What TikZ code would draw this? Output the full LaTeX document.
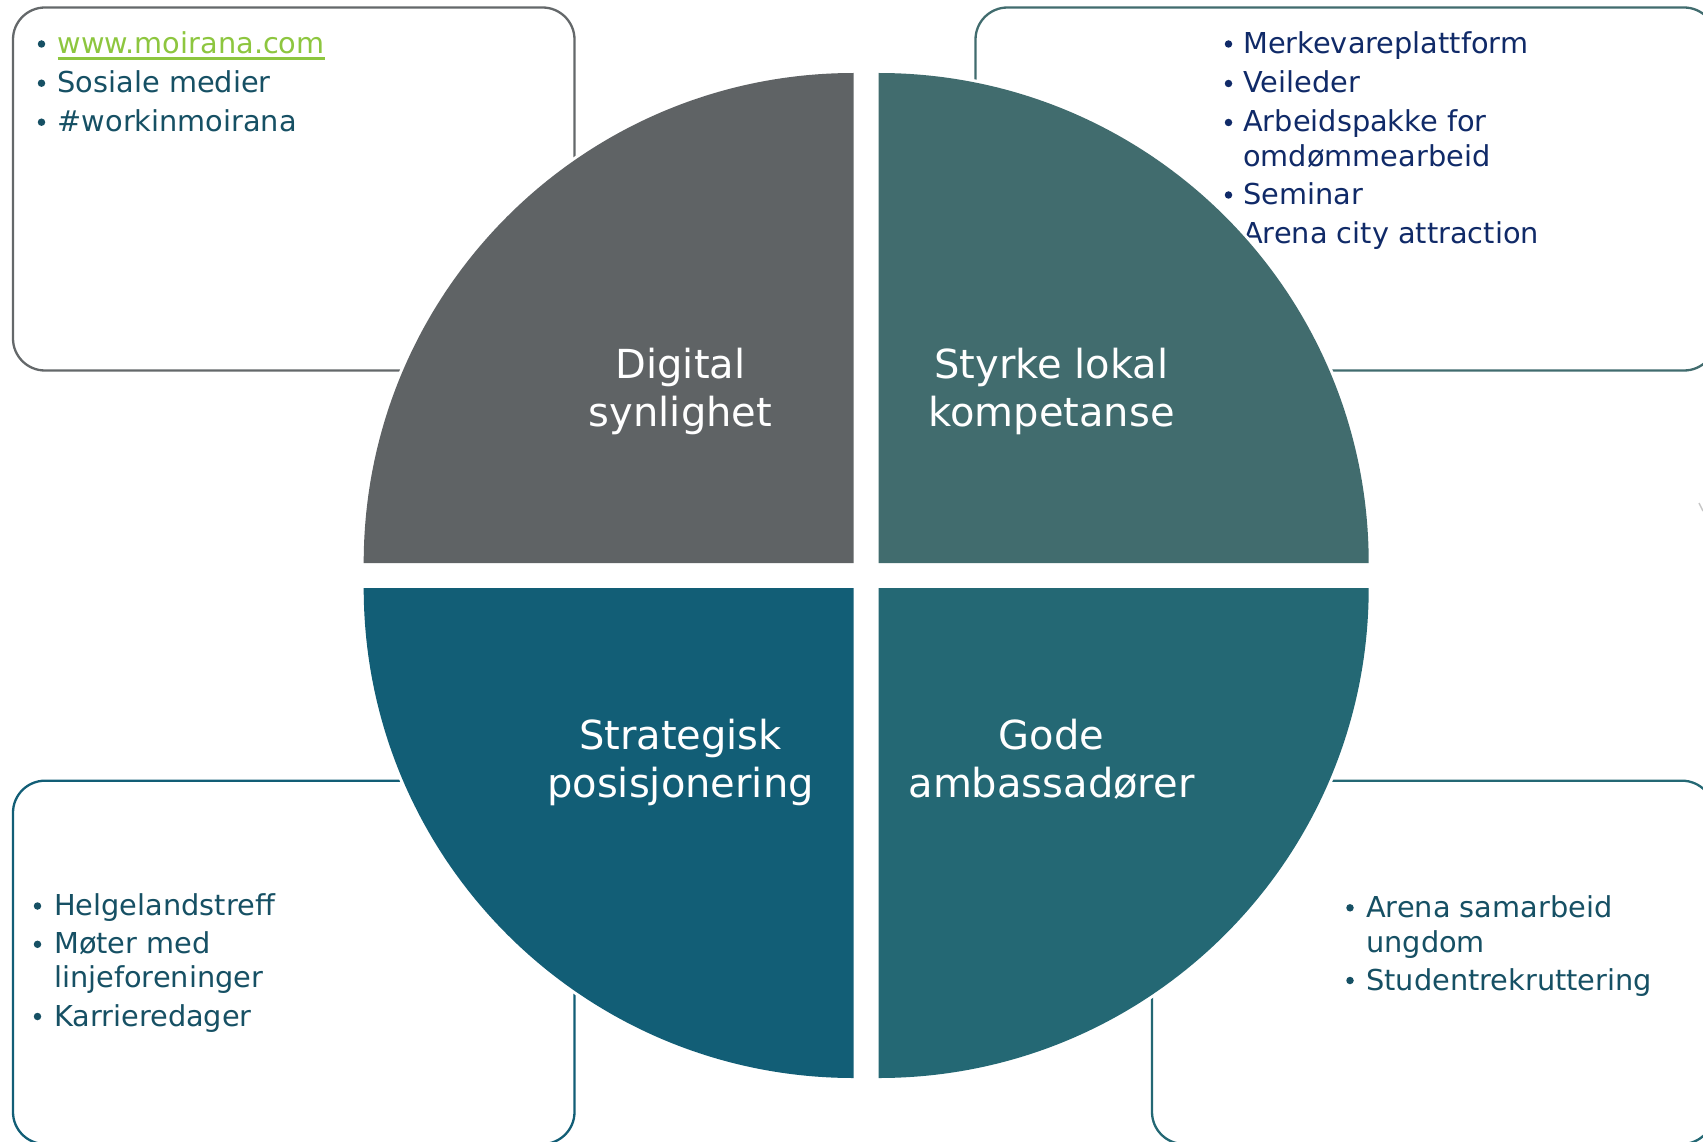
\documentclass[tikz,border=0pt]{standalone}
\usepackage{fontspec}
\setmainfont{DejaVu Sans}
\definecolor{cTL}{RGB}{95,99,101}
\definecolor{cTR}{RGB}{65,108,110}
\definecolor{cBL}{RGB}{18,94,118}
\definecolor{cBR}{RGB}{36,104,116}
\definecolor{lTL}{RGB}{100,104,106}
\definecolor{txTeal}{RGB}{22,80,100}
\definecolor{txNavy}{RGB}{16,42,104}
\definecolor{linkGreen}{RGB}{141,198,63}
\begin{document}
\begin{tikzpicture}[x=1pt,y=-1pt]
\tikzset{
  card/.style={draw=#1, line width=2.3pt, rounded corners=32pt},
  halo/.style={draw=white, line width=6pt, line join=round},
  title/.style={text=white, align=center, font=\fontsize{40}{47.5}\selectfont, inner sep=0pt},
  itm/.style={anchor=base west, inner sep=0pt, font=\fontsize{28.8}{35}\selectfont, text=#1},
  dot/.style={circle, fill=#1, inner sep=0pt, minimum size=7.5pt},
}
\useasboundingbox (0,0) rectangle (1703,1142);
\clip (0,0) rectangle (1703,1142);

% ---------- cards ----------
\draw[card=lTL] (13,7.5) rectangle (574.5,370.5);
\draw[card=cTR] (975.5,7.5) rectangle (1716,370.5);
\draw[card=cBL] (13,780.7) rectangle (574.5,1144);
\draw[card=cBR] (1152,780.7) rectangle (1714,1144);

% ---------- top-left texts ----------
\node[dot=txTeal] (tl1b) at (41.5,44) {};
\node[itm=linkGreen] (tl1) at (57.5,53.5) {www.moirana.com};
\draw[linkGreen, line width=2.2pt] ([yshift=-5pt]tl1.base west) -- ([yshift=-5pt]tl1.base east);
\node[dot=txTeal] (tl2b) at (41.5,83.2) {};
\node[itm=txTeal] (tl2) at (57.5,92.7) {Sosiale medier};
\node[dot=txTeal] (tl3b) at (41.5,122.2) {};
\node[itm=txTeal] (tl3) at (57.5,131.7) {\#workinmoirana};

% ---------- top-right texts ----------
\node[dot=txNavy] (tr1b) at (1228.5,44) {};
\node[itm=txNavy] (tr1) at (1243,53.5) {Merkevareplattform};
\node[dot=txNavy] (tr2b) at (1228.5,83.5) {};
\node[itm=txNavy] (tr2) at (1243,93) {Veileder};
\node[dot=txNavy] (tr3b) at (1228.5,122.5) {};
\node[itm=txNavy] (tr3) at (1243,132) {Arbeidspakke for};
\node[itm=txNavy] (tr3c) at (1243,166.5) {omdømmearbeid};
\node[dot=txNavy] (tr4b) at (1228.5,195) {};
\node[itm=txNavy] (tr4) at (1243,204.5) {Seminar};
\node[dot=txNavy] (tr5b) at (1228.5,233.8) {};
\node[itm=txNavy] (tr5) at (1243,243.3) {Arena city attraction};

% ---------- bottom-left texts ----------
\node[dot=txTeal] (bl1b) at (37.5,906) {};
\node[itm=txTeal] (bl1) at (54,915.5) {Helgelandstreff};
\node[dot=txTeal] (bl2b) at (37.5,944.3) {};
\node[itm=txTeal] (bl2) at (54,953.8) {Møter med};
\node[itm=txTeal] (bl2c) at (54,987.5) {linjeforeninger};
\node[dot=txTeal] (bl3b) at (37.5,1016.5) {};
\node[itm=txTeal] (bl3) at (54,1026) {Karrieredager};

% ---------- bottom-right texts ----------
\node[dot=txTeal] (br1b) at (1350,907.8) {};
\node[itm=txTeal] (br1) at (1366,917.3) {Arena samarbeid};
\node[itm=txTeal] (br1c) at (1366,952.7) {ungdom};
\node[dot=txTeal] (br2b) at (1350,980.5) {};
\node[itm=txTeal] (br2) at (1366,990) {Studentrekruttering};

% ---------- white halos around the quarters ----------
\path[halo] (853.7,563) -- ++(-490,0) arc[start angle=180,end angle=270,radius=490] -- cycle;
\path[halo] (878.7,563) -- ++(0,-490) arc[start angle=270,end angle=360,radius=490] -- cycle;
\path[halo] (853.7,588) -- ++(0,490) arc[start angle=90,end angle=180,radius=490] -- cycle;
\path[halo] (878.7,588) -- ++(490,0) arc[start angle=0,end angle=90,radius=490] -- cycle;

% ---------- quarters ----------
\fill[cTL] (853.7,563) -- ++(-490,0) arc[start angle=180,end angle=270,radius=490] -- cycle;
\fill[cTR] (878.7,563) -- ++(0,-490) arc[start angle=270,end angle=360,radius=490] -- cycle;
\fill[cBL] (853.7,588) -- ++(0,490) arc[start angle=90,end angle=180,radius=490] -- cycle;
\fill[cBR] (878.7,588) -- ++(490,0) arc[start angle=0,end angle=90,radius=490] -- cycle;

% ---------- quarter titles ----------
\node[title] (qTL) at (680.5,392.8) {\strut Digital\\\strut synlighet};
\node[title] (qTR) at (1051.5,392.8) {\strut Styrke lokal\\\strut kompetanse};
\node[title] (qBL) at (680.5,763.8) {\strut Strategisk\\\strut posisjonering};
\node[title] (qBR) at (1051.5,763.8) {\strut Gode\\\strut ambassadører};

% ---------- stray fragment at right edge ----------
\draw[black!22, line width=1.5pt] (1699,503) -- (1703,511);
\end{tikzpicture}
\end{document}
